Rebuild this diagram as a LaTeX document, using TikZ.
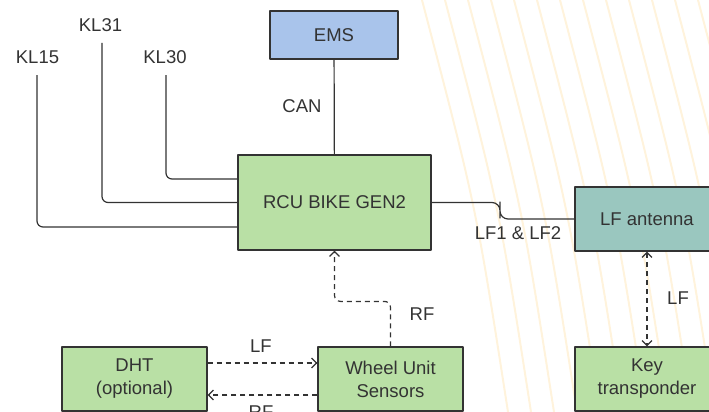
\documentclass[tikz,border=0pt]{standalone}
\usepackage{fontspec}
\setmainfont{Liberation Sans}
\usetikzlibrary{arrows.meta}
\definecolor{emsblue}{HTML}{A9C4EB}
\definecolor{boxgreen}{HTML}{B9E0A5}
\definecolor{antteal}{HTML}{9AC7BF}
\definecolor{edgegray}{HTML}{333333}
\definecolor{wmark}{HTML}{FFF3DC}

\begin{document}
\begin{tikzpicture}[x=1pt,y=-1pt,line join=round,>={Straight Barb[length=5pt,width=10pt]},
    font=\fontsize{18.5}{23}\selectfont,text=black!80,
    box/.style={draw=edgegray,line width=1.2pt,inner sep=0pt,align=center},
    wire/.style={draw=edgegray,line width=1.2pt,rounded corners=6pt},
    radio/.style={wire,dash pattern=on 5pt off 4pt}]
        \useasboundingbox (0,0) rectangle (709,412);
        \clip (0,0) rectangle (709,412);
        \foreach \x in {422,445,...,698}
            \draw [wmark,line width=2pt] (\x,0) .. controls (\x+54,206) .. (\x+86,412);
        \node [box,fill=emsblue,minimum width=128pt,minimum height=48pt] (ems) at (334,35) {EMS};
        \node [box,fill=boxgreen,minimum width=193pt,minimum height=95pt] (rcu) at (334.5,202.5) {RCU BIKE GEN2};
        \node [box,fill=antteal,minimum width=144pt,minimum height=64pt] (lfant) at (647,219) {LF antenna};
        \node [box,fill=boxgreen,minimum width=144pt,minimum height=64pt] (key) at (647,379) {Key\\transponder};
        \node [box,fill=boxgreen,minimum width=145pt,minimum height=64pt] (wus) at (390.5,379) {Wheel Unit\\Sensors};
        \node [box,fill=boxgreen,minimum width=145pt,minimum height=64pt] (dht) at (134.5,379) {DHT\\(optional)};
        \node (kl15) at (37.5,57) {KL15};
        \node (kl31) at (100.5,25.5) {KL31};
        \node (kl30) at (165,57) {KL30};
        \coordinate (k15) at (37,75);
        \coordinate (k31) at (102,43);
        \coordinate (k30) at (166,75);
        \coordinate (bend) at (500,210);
        \draw [wire] (k15) |- ([yshift=-24.5pt]rcu.west);
        \draw [wire] (k31) |- (rcu.west);
        \draw [wire] (k30) |- ([yshift=23.5pt]rcu.west);
        \draw [wire] (ems) -- (rcu);
        \draw [wire,rounded corners=8pt] (rcu.east) -| (bend) |- (lfant.west);
        \draw [radio,->] (wus.north) -- ++(0,-45) -| (rcu.south);
        \draw [radio,->] ([yshift=16pt]dht.east) -- ([yshift=16pt]wus.west);
        \draw [radio,->] ([yshift=-16pt]wus.west) -- ([yshift=-16pt]dht.east);
        \draw [radio,<->] (lfant) -- (key);
        \node (can) at (302,106) {CAN};
        \node (lfpair) at (518,233) {LF1 \& LF2};
        \node (rfup) at (422,314) {RF};
        \node (lfdht) at (261,346) {LF};
        \node (rfdht) at (261,412) {RF};
        \node (lfkey) at (678,298) {LF};
    \end{tikzpicture}
\end{document}
